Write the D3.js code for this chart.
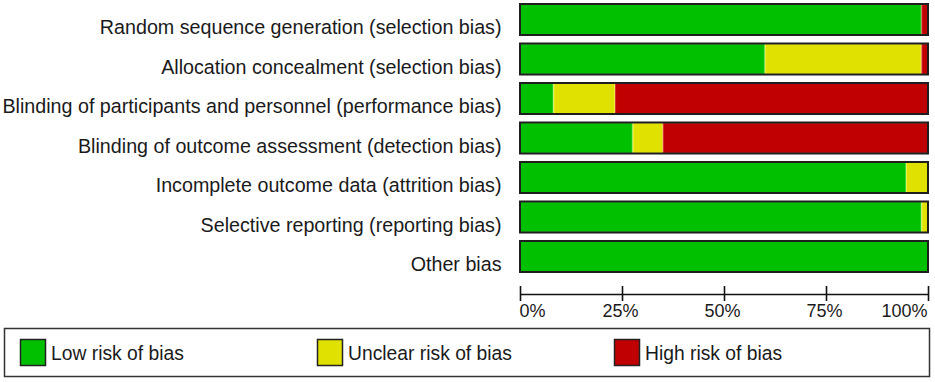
<!DOCTYPE html>
<html>
<head>
<meta charset="utf-8">
<script src="https://cdn.jsdelivr.net/npm/d3@7"></script>
<style>
  html, body { margin: 0; padding: 0; background: #fff; }
  svg { display: block; font-family: "Liberation Sans", Arial, sans-serif; }
</style>
</head>
<body>
<svg id="chart" width="935" height="382"></svg>
<script>
// Risk of bias domains (top to bottom)
const categories = [
    "Random sequence generation (selection bias)",
    "Allocation concealment (selection bias)",
    "Blinding of participants and personnel (performance bias)",
    "Blinding of outcome assessment (detection bias)",
    "Incomplete outcome data (attrition bias)",
    "Selective reporting (reporting bias)",
    "Other bias"
];

// percentage of studies per judgement
const lowRisk     = [98.4, 60.0,  8.2, 27.6, 94.6, 98.4, 100];
const unclearRisk = [ 0.0, 38.4, 15.1,  7.4,  5.4,  1.6,   0];
const highRisk    = [ 1.6,  1.6, 76.7, 65.0,  0.0,  0.0,   0];

const tickValues = [0, 25, 50, 75, 100];
const tickLabels = ["0%", "25%", "50%", "75%", "100%"];

const seriesKeys   = ["low", "unclear", "high"];
const seriesNames  = ["Low risk of bias", "Unclear risk of bias", "High risk of bias"];
const seriesColors = ["#00c000", "#e1e100", "#c00000"];
const seriesEdges  = ["#33d633", "#f0f040", "#d43030"];

const rows = categories.map((c, i) => ({
    cat: c, low: lowRisk[i], unclear: unclearRisk[i], high: highRisk[i]
}));

const svg = d3.select("#chart");

const x = d3.scaleLinear().domain([0, 100]).range([520, 928]);
const y = d3.scaleBand().domain(categories).range([4, 272]).paddingInner(0.215).paddingOuter(0);
const color = d3.scaleOrdinal().domain(seriesKeys).range(seriesColors);
const edge = d3.scaleOrdinal().domain(seriesKeys).range(seriesEdges);

const stacked = d3.stack().keys(seriesKeys)(rows);

// segments
svg.append("g").selectAll("g")
    .data(stacked)
    .join("g")
    .attr("fill", d => color(d.key))
    .attr("stroke", d => edge(d.key))
    .attr("stroke-width", 1)
    .selectAll("rect")
    .data(d => d.filter(s => s[1] - s[0] > 0))
    .join("rect")
    .attr("x", d => x(d[0]) + 0.5)
    .attr("y", d => y(d.data.cat) + 0.5)
    .attr("width", d => Math.max(0, x(d[1]) - x(d[0]) - 1))
    .attr("height", y.bandwidth() - 1);

// bar outlines
svg.append("g").selectAll("rect")
    .data(categories)
    .join("rect")
    .attr("x", x(0))
    .attr("y", d => y(d))
    .attr("width", x(100) - x(0))
    .attr("height", y.bandwidth())
    .attr("fill", "none")
    .attr("stroke", "#1e1e1e")
    .attr("stroke-width", 2);

// row labels
svg.append("g").selectAll("text")
    .data(categories)
    .join("text")
    .attr("x", 501.5)
    .attr("y", d => y(d) + y.bandwidth() - 1)
    .attr("text-anchor", "end")
    .attr("font-size", "19.7px")
    .attr("fill", "#1a1a1a")
    .text(d => d);

// axis
const axis = svg.append("g")
    .attr("transform", "translate(0,294)")
    .call(d3.axisBottom(x).tickValues(tickValues).tickSizeInner(7).tickSizeOuter(0)
        .tickFormat((d, i) => tickLabels[i]));

axis.select(".domain").attr("stroke", "#111").attr("stroke-width", 1.6);
axis.selectAll(".tick line").attr("y1", -8).attr("y2", 7).attr("stroke", "#111").attr("stroke-width", 1.6);
axis.selectAll(".tick text")
    .attr("y", 23)
    .attr("dy", null)
    .attr("font-size", "18px")
    .attr("font-family", "\"Liberation Sans\", Arial, sans-serif")
    .attr("fill", "#1a1a1a")
    .attr("text-anchor", (d, i) => i === 0 ? "start" : (i === tickValues.length - 1 ? "end" : "middle"))
    .attr("dx", (d, i) => i === 0 ? -1 : (i === tickValues.length - 1 ? -1 : -2));

// legend
const legend = svg.append("g");
legend.append("rect")
    .attr("x", 4.5).attr("y", 328.5)
    .attr("width", 925).attr("height", 48)
    .attr("fill", "#fff")
    .attr("stroke", "#333")
    .attr("stroke-width", 1.5);

const legendX = [20, 317, 614];
const items = legend.selectAll("g.item")
    .data(seriesKeys)
    .join("g")
    .attr("class", "item")
    .attr("transform", (d, i) => `translate(${legendX[i]},339)`);

items.append("rect")
    .attr("x", 0.5).attr("y", 0.5)
    .attr("width", 25).attr("height", 26)
    .attr("fill", d => color(d))
    .attr("stroke", "#222")
    .attr("stroke-width", 1.5);

items.append("text")
    .attr("x", 31)
    .attr("y", 21)
    .attr("font-size", "19.3px")
    .attr("fill", "#1a1a1a")
    .text((d, i) => seriesNames[i]);
</script>
</body>
</html>
